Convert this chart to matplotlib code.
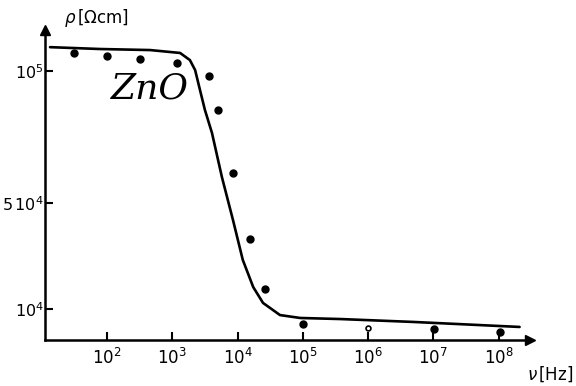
import matplotlib
matplotlib.use("Agg")
import matplotlib.pyplot as plt

plt.rcParams['mathtext.default'] = 'it'
plt.rcParams['font.family'] = ['DejaVu Sans']

# measured points
freq = [31, 100, 324, 1175, 3630, 5012, 8511, 15490, 26300, 1.0e5, 1.0e6, 1.02e7, 1.05e8]
rho = [1.070e5, 1.058e5, 1.047e5, 1.032e5, 9.83e4, 8.54e4, 6.15e4, 3.65e4, 1.76e4, 4.3e3, 2.8e3, 2.4e3, 1.3e3]
hollow = [False, False, False, False, False, False, False, False, False, False, True, False, False]

# fitted curve
curve_freq = [13.4, 77.6, 457, 1318, 1862, 2239, 2655, 3162, 4055, 5754, 8511, 12023, 17378,
              24547, 44668, 91201, 371535, 4.9e6, 2.09e8]
curve_rho = [1.092e5, 1.085e5, 1.081e5, 1.070e5, 1.043e5, 1.005e5, 9.30e4, 8.54e4, 7.67e4, 6.00e4,
             4.37e4, 2.86e4, 1.83e4, 1.23e4, 7.7e3, 6.6e3, 6.2e3, 5.1e3, 3.2e3]

x_ticks = [1e2, 1e3, 1e4, 1e5, 1e6, 1e7, 1e8]
x_labels = ['$10^{2}$', '$10^{3}$', '$10^{4}$', '$10^{5}$', '$10^{6}$', '$10^{7}$', '$10^{8}$']
y_ticks = [1e4, 5e4, 1e5]
y_labels = ['$10^{4}$', '$5\\,10^{4}$', '$10^{5}$']

fig = plt.figure(figsize=(5.76, 3.86), dpi=100)
ax = fig.add_axes([45/576, (386-340)/386, (530-45)/576, (340-30)/386])
ax.set_xscale('log')
ax.set_xlim(10**1.05, 10**8.48)
ax.set_ylim(-1743, 1.157e5)

ax.plot(curve_freq, curve_rho, color='black', lw=1.9, solid_capstyle='round',
        solid_joinstyle='round')
for f, r, h in zip(freq, rho, hollow):
    if h:
        ax.plot(f, r, 'o', ms=3.5, mfc='white', mec='black', mew=1.2)
    else:
        ax.plot(f, r, 'o', ms=5, color='black')

for s in ['top', 'right']:
    ax.spines[s].set_visible(False)
for s in ['left', 'bottom']:
    ax.spines[s].set_linewidth(1.8)

ax.plot(1, 0, '>', color='black', ms=7, transform=ax.transAxes, clip_on=False)
ax.plot(0, 1, '^', color='black', ms=7, transform=ax.transAxes, clip_on=False)

ax.set_xticks(x_ticks)
ax.set_xticklabels(x_labels)
ax.minorticks_off()
ax.set_yticks(y_ticks)
ax.set_yticklabels(y_labels)
ax.tick_params(axis='both', direction='in', length=6, width=1.5, labelsize=12)
ax.tick_params(axis='x', pad=6)
ax.tick_params(axis='y', pad=1, labelsize=11.5)

fig.text(64/576, 1-18/386, '$\\rho\\,$[$\\Omega$cm]', fontsize=12,
         ha='left', va='center')
fig.text(527/576, 1-374/386, '$\\nu\\,$[Hz]', fontsize=12, ha='left', va='center')
ax.text(0.135, 0.81, 'ZnO', transform=ax.transAxes, fontsize=26, style='italic',
        family='DejaVu Serif', ha='left', va='center')

fig.savefig('out.png', dpi=100)
